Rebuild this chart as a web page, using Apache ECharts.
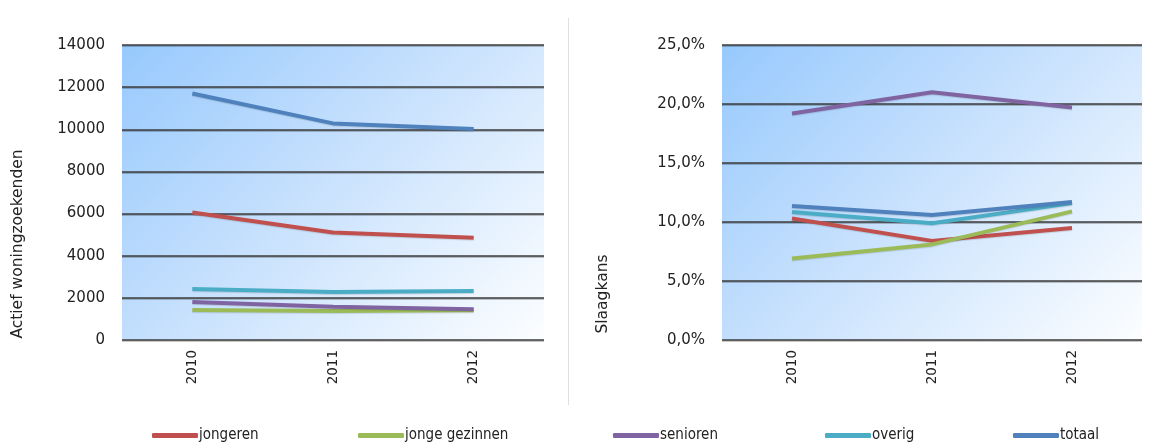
<!DOCTYPE html>
<html>
<head>
<meta charset="utf-8">
<script src="https://cdn.jsdelivr.net/npm/echarts@6/dist/echarts.min.js"></script>
<style>
  html, body { margin: 0; padding: 0; background: #fff; }
  #chart { width: 1153px; height: 444px; }
</style>
</head>
<body>
<div id="chart"></div>
<script>
var years = ["2010", "2011", "2012"];
var seriesNames = ["jongeren", "jonge gezinnen", "senioren", "overig", "totaal"];
var seriesColors = ["#C0504D", "#9BBB59", "#8064A2", "#4BACC6", "#4F81BD"];

// actief woningzoekenden
var zoekJongeren = [6050, 5100, 4850];
var zoekGezinnen = [1420, 1380, 1410];
var zoekSenioren = [1800, 1580, 1460];
var zoekOverig = [2420, 2280, 2330];
var zoekTotaal = [11700, 10280, 10010];

// slaagkans (%)
var kansJongeren = [10.3, 8.4, 9.5];
var kansGezinnen = [6.9, 8.1, 10.9];
var kansSenioren = [19.2, 21.0, 19.7];
var kansOverig = [10.85, 9.9, 11.6];
var kansTotaal = [11.35, 10.6, 11.7];

var leftData = [zoekJongeren, zoekGezinnen, zoekSenioren, zoekOverig, zoekTotaal];
var rightData = [kansJongeren, kansGezinnen, kansSenioren, kansOverig, kansTotaal];

var font = "DejaVu Sans";

// diagonal (45deg in pixels) gradient per plot area
function plotBg(x, y) {
  return new echarts.graphic.LinearGradient(x, y, x + 360, y + 360, [
    { offset: 0, color: "#97C9FD" },
    { offset: 0.45, color: "#C6E0FD" },
    { offset: 1, color: "#FDFEFF" },
  ], true);
}

function xAxisFor(idx) {
  return {
    type: "category",
    gridIndex: idx,
    data: years,
    boundaryGap: true,
    axisLine: { show: false },
    axisTick: { show: false },
    axisLabel: {
      rotate: 90,
      margin: 10,
      fontFamily: font,
      fontSize: 13.5,
      color: "#222",
    },
  };
}

function yAxisFor(idx, max, interval, fmt) {
  return {
    type: "value",
    gridIndex: idx,
    min: 0,
    max: max,
    interval: interval,
    axisLine: { show: false },
    axisTick: { show: false },
    axisLabel: {
      margin: 17,
      fontFamily: font,
      fontSize: 15,
      color: "#222",
      formatter: fmt,
    },
    splitLine: {
      lineStyle: {
        color: "#3c3c3c",
        width: 1.5,
        shadowColor: "rgba(0,0,0,0.3)",
        shadowOffsetY: 1,
        shadowBlur: 0,
      },
    },
  };
}

var series = [];
seriesNames.forEach(function (name, i) {
  [leftData, rightData].forEach(function (set, g) {
    series.push({
      name: name,
      type: "line",
      xAxisIndex: g,
      yAxisIndex: g,
      data: set[i],
      symbol: "none",
      smooth: false,
      z: 3,
      lineStyle: {
        width: 4,
        color: seriesColors[i],
        shadowColor: "rgba(0,0,0,0.12)",
        shadowOffsetY: 1,
        shadowBlur: 1,
      },
      itemStyle: { color: seriesColors[i] },
    });
  });
});

var legendLefts = [152, 358, 613, 825, 1013];
var legends = seriesNames.map(function (name, i) {
  return {
    data: [name],
    left: legendLefts[i],
    top: 428,
    padding: 0,
    icon: "roundRect",
    itemWidth: 46,
    itemHeight: 5,
    itemGap: 0,
    textStyle: {
      fontFamily: "DejaVu Sans Condensed",
      fontSize: 15,
      color: "#222",
      padding: [0, 0, 0, -4],
    },
  };
});

var option = {
  animation: false,
  backgroundColor: "#fff",
  grid: [
    { left: 122, right: 609, top: 45, bottom: 104, show: true, backgroundColor: plotBg(122, 45), borderWidth: 0 },
    { left: 722, right: 11, top: 45, bottom: 104, show: true, backgroundColor: plotBg(722, 45), borderWidth: 0 },
  ],
  xAxis: [xAxisFor(0), xAxisFor(1)],
  yAxis: [
    yAxisFor(0, 14000, 2000, function (v) {
      return String(v);
    }),
    yAxisFor(1, 25, 5, function (v) {
      return v.toFixed(1).replace(".", ",") + "%";
    }),
  ],
  legend: legends,
  series: series,
  graphic: [
    {
      type: "line",
      shape: { x1: 568.5, y1: 18, x2: 568.5, y2: 405 },
      style: { stroke: "#e0e0e0", lineWidth: 1 },
    },
    {
      type: "text",
      x: 18,
      y: 244,
      rotation: Math.PI / 2,
      style: {
        text: "Actief woningzoekenden",
        fontFamily: font,
        fontSize: 15.5,
        fill: "#222",
        textAlign: "center",
        textVerticalAlign: "middle",
      },
    },
    {
      type: "text",
      x: 603,
      y: 294,
      rotation: Math.PI / 2,
      style: {
        text: "Slaagkans",
        fontFamily: font,
        fontSize: 15.5,
        fill: "#222",
        textAlign: "center",
        textVerticalAlign: "middle",
      },
    },
  ],
};

var chart = echarts.init(document.getElementById("chart"));
chart.setOption(option);
</script>
</body>
</html>
